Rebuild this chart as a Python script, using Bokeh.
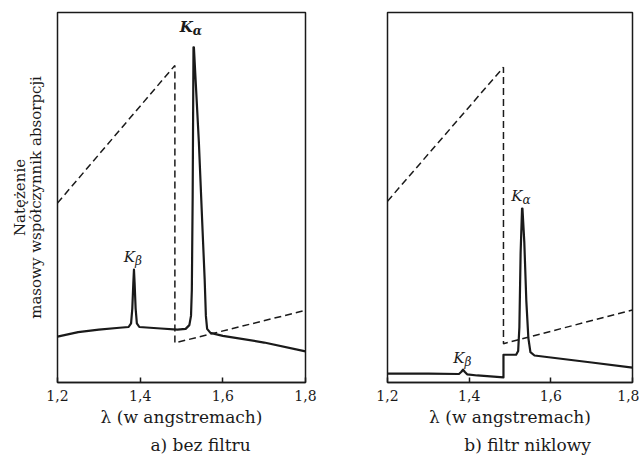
from bokeh.plotting import figure
from bokeh.layouts import row
from bokeh.models import (Range1d, FixedTicker, LinearAxis, Label,
                          CustomJSTickFormatter, ColumnDataSource)
from bokeh.embed import file_html
from bokeh.resources import INLINE

# ---------------- data ----------------
ticks = [1.2, 1.4, 1.6, 1.8]
subtitle_a = "a) bez filtru"
subtitle_b = "b) filtr niklowy"

# panel a: bez filtru
sol_a_x = [1.20, 1.25, 1.30, 1.35, 1.372, 1.378, 1.381, 1.3835, 1.385, 1.3865, 1.389,
           1.392, 1.398, 1.45, 1.49, 1.510, 1.519, 1.523, 1.525, 1.527, 1.529, 1.530,
           1.542, 1.551, 1.556, 1.559, 1.562, 1.570, 1.60, 1.70, 1.80]
sol_a_y = [12.4, 13.6, 14.3, 14.8, 15.0, 16.0, 20.0, 27.0, 30.5, 27.0, 20.0,
           16.0, 15.0, 14.6, 14.3, 14.5, 15.5, 18.0, 25.0, 50.0, 90.6, 90.6,
           65.0, 41.0, 28.0, 18.0, 14.5, 13.4, 12.6, 10.8, 8.4]
abs_a_x = [1.20, 1.484, 1.484, 1.80]
abs_a_y = [48.5, 85.7, 10.7, 19.5]

# panel b: filtr niklowy
sol_b_x = [1.20, 1.30, 1.375, 1.381, 1.385, 1.389, 1.395, 1.42, 1.484, 1.484,
           1.515, 1.520, 1.523, 1.526, 1.5295, 1.5305, 1.535, 1.540, 1.545,
           1.550, 1.560, 1.70, 1.80]
sol_b_y = [2.4, 2.4, 2.3, 2.9, 3.5, 2.9, 2.2, 1.9, 1.4, 7.5,
           7.5, 8.5, 15.0, 35.0, 47.0, 47.0, 38.0, 22.0, 12.0,
           8.2, 7.3, 5.4, 4.0]
abs_b_x = [1.20, 1.484, 1.484, 1.80]
abs_b_y = [49.0, 85.2, 10.5, 19.6]

SERIF = "DejaVu Serif"
INK = "#1a1a1a"


def make_panel(width, border_left, border_right, border_top, border_bottom,
               sol_x, sol_y, abs_x, abs_y, subtitle, sub_x):
    p = figure(width=width, height=459, output_backend="svg", toolbar_location=None,
               x_range=Range1d(1.2, 1.8), y_range=Range1d(0, 100),
               min_border_left=border_left, min_border_right=border_right,
               min_border_top=border_top, min_border_bottom=border_bottom)
    p.grid.visible = False
    p.outline_line_color = INK
    p.outline_line_width = 1.5
    p.background_fill_color = "white"
    p.border_fill_color = "white"

    xa = p.xaxis[0]
    xa.ticker = FixedTicker(ticks=ticks)
    xa.formatter = CustomJSTickFormatter(code="return tick.toFixed(1).replace('.', ',');")
    xa.major_tick_in = 5
    xa.major_tick_out = 0
    xa.minor_tick_line_color = None
    xa.major_tick_line_color = INK
    xa.major_tick_line_width = 1.5
    xa.axis_line_color = INK
    xa.axis_line_width = 1.5
    xa.major_label_text_font = SERIF
    xa.major_label_text_font_size = "14px"
    xa.major_label_text_color = INK
    xa.major_label_standoff = 7
    xa.axis_label = "λ (w angstremach)"
    xa.axis_label_text_font = SERIF
    xa.axis_label_text_font_size = "17px"
    xa.axis_label_text_font_style = "normal"
    xa.axis_label_text_color = INK
    xa.axis_label_standoff = 3

    ya = p.yaxis[0]
    ya.ticker = FixedTicker(ticks=[])
    ya.major_tick_out = 0
    ya.major_tick_in = 0
    ya.minor_tick_line_color = None
    ya.major_label_standoff = 0
    ya.axis_line_color = None

    src_s = ColumnDataSource(dict(x=sol_x, y=sol_y))
    src_d = ColumnDataSource(dict(x=abs_x, y=abs_y))
    p.line("x", "y", source=src_d, line_color=INK, line_width=1.5, line_dash="7 4")
    p.line("x", "y", source=src_s, line_color=INK, line_width=2.2, line_join="round")

    # sub-caption drawn as the single label of a bare axis below the x axis
    cap = LinearAxis(ticker=FixedTicker(ticks=[sub_x]),
                     formatter=CustomJSTickFormatter(args=dict(t=subtitle), code="return t;"),
                     axis_line_color=None, major_tick_out=0, major_tick_in=0,
                     minor_tick_line_color=None, major_tick_line_color=None,
                     major_label_standoff=5, major_label_text_font=SERIF,
                     major_label_text_font_size="17px", major_label_text_color=INK)
    p.add_layout(cap, "below")
    return p


def k_label(p, x, y, sub, bold):
    style = "bold italic" if bold else "italic"
    p.add_layout(Label(x=x, y=y, text="K", text_align="right", text_baseline="middle",
                       text_font=SERIF, text_font_size="15px", text_font_style=style,
                       text_color=INK, x_offset=1))
    p.add_layout(Label(x=x, y=y, text=sub, text_align="left", text_baseline="middle",
                       text_font=SERIF, text_font_size="12px", text_font_style=style,
                       text_color=INK, x_offset=1, y_offset=-4))


# panel a
pa = make_panel(320, 57, 15, 12, 76, sol_a_x, sol_a_y, abs_a_x, abs_a_y,
                subtitle_a, 1.546)
pa.yaxis[0].axis_label = "masowy współczynnik absorpcji"
pa.yaxis[0].axis_label_text_font = SERIF
pa.yaxis[0].axis_label_text_font_size = "15px"
pa.yaxis[0].axis_label_text_font_style = "normal"
pa.yaxis[0].axis_label_text_color = INK
pa.yaxis[0].axis_label_standoff = 13
outer = LinearAxis(ticker=FixedTicker(ticks=[]), axis_label="Natężenie",
                   axis_line_color=None, major_tick_out=0, major_tick_in=0,
                   minor_tick_line_color=None, major_label_standoff=0,
                   axis_label_standoff=-5, axis_label_text_font=SERIF,
                   axis_label_text_font_size="15px", axis_label_text_font_style="normal",
                   axis_label_text_color=INK)
pa.add_layout(outer, "left")
k_label(pa, 1.525, 96.0, "α", True)
k_label(pa, 1.385, 34.0, "β", False)

# panel b
pb = make_panel(319, 67, 7, 10, 77, sol_b_x, sol_b_y, abs_b_x, abs_b_y,
                subtitle_b, 1.543)
k_label(pb, 1.528, 50.5, "α", False)
k_label(pb, 1.386, 6.5, "β", False)

layout = row(pa, pb)
open("out.html", "w").write(file_html(layout, INLINE))
